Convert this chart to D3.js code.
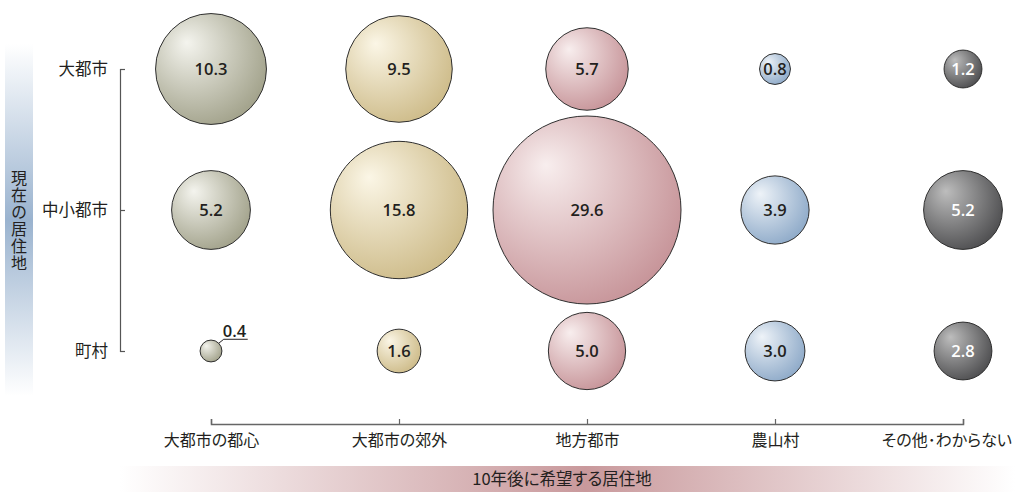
<!DOCTYPE html>
<html>
<head>
<meta charset="utf-8">
<script src="https://cdn.jsdelivr.net/npm/d3@7"></script>
<style>
  html, body { margin: 0; padding: 0; background: #fff; }
  svg { display: block; font-family: "Noto Sans CJK JP", "Noto Sans", sans-serif; }
  .num { font-family: "Open Sans", "Noto Sans", sans-serif; }
  .jp { font-feature-settings: "palt" 1; }
</style>
</head>
<body>
<svg id="chart" width="1015" height="492"></svg>
<script>
// Current place of residence (rows) and desired place in 10 years (columns)
const currentPlaces = ["大都市", "中小都市", "町村"];
const desiredPlaces = ["大都市の都心", "大都市の郊外", "地方都市", "農山村", "その他･わからない"];

// Share (%) for each current place, one value per desired place
const bigCityValues   = [10.3, 9.5, 5.7, 0.8, 1.2];
const midCityValues   = [5.2, 15.8, 29.6, 3.9, 5.2];
const townValues      = [0.4, 1.6, 5.0, 3.0, 2.8];

const rowTitle = "現在の居住地";
const colTitle = "10年後に希望する居住地";

// Bubble shading per desired place: [highlight, base]
const bubbleColors = [
  ["#f4f4ee", "#9d9d85"],
  ["#fbf6e6", "#cbb884"],
  ["#f8eeee", "#c48f94"],
  ["#eef3f8", "#89a6c6"],
  ["#bdbdbd", "#48484a"]
];
const labelColors = ["#231f20", "#231f20", "#231f20", "#231f20", "#ffffff"];

const seriesByRow = [bigCityValues, midCityValues, townValues];
const cells = [];
currentPlaces.forEach((row, i) => {
  desiredPlaces.forEach((col, j) => {
    cells.push({ row, col, ci: j, value: seriesByRow[i][j] });
  });
});

const svg = d3.select("#chart");
const textColor = "#231f20";
const W = 1015;

const x = d3.scalePoint().domain(desiredPlaces).range([211, 963]);
const y = d3.scalePoint().domain(currentPlaces).range([69, 351]);
const maxValue = d3.max(cells, d => d.value);
const r = d3.scaleSqrt().domain([0, maxValue]).range([0, 94]);

const defs = svg.append("defs");

// Vertical band behind the row title
const vGrad = defs.append("linearGradient")
  .attr("id", "rowBand").attr("x1", 0).attr("y1", 0).attr("x2", 0).attr("y2", 1);
vGrad.append("stop").attr("offset", "0%").attr("stop-color", "#ffffff");
vGrad.append("stop").attr("offset", "50%").attr("stop-color", "#9ab3cf");
vGrad.append("stop").attr("offset", "100%").attr("stop-color", "#ffffff");

// Horizontal band behind the column title
const hGrad = defs.append("linearGradient")
  .attr("id", "colBand").attr("x1", 0).attr("y1", 0).attr("x2", 1).attr("y2", 0);
hGrad.append("stop").attr("offset", "0%").attr("stop-color", "#ffffff");
hGrad.append("stop").attr("offset", "52%").attr("stop-color", "#c9999c");
hGrad.append("stop").attr("offset", "100%").attr("stop-color", "#ffffff");

// Sphere-like shading for each bubble colour
bubbleColors.forEach((c, i) => {
  const g = defs.append("radialGradient")
    .attr("id", "ball" + i)
    .attr("cx", "0.38").attr("cy", "0.38").attr("r", "0.72")
    .attr("fx", "0.28").attr("fy", "0.26");
  g.append("stop").attr("offset", "0%").attr("stop-color", c[0]);
  g.append("stop").attr("offset", "100%").attr("stop-color", c[1]);
});

// Row title band with vertical text
svg.append("rect")
  .attr("x", 5).attr("y", 44).attr("width", 28).attr("height", 352)
  .attr("fill", "url(#rowBand)");
svg.append("text")
  .attr("x", 19).attr("y", 221)
  .attr("text-anchor", "middle")
  .style("writing-mode", "vertical-rl")
  .style("text-orientation", "upright")
  .style("letter-spacing", "1px")
  .attr("font-size", 16).attr("fill", textColor)
  .text(rowTitle);

// Column title band
svg.append("rect")
  .attr("x", 120).attr("y", 466).attr("width", 895).attr("height", 26)
  .attr("fill", "url(#colBand)");
svg.append("text")
  .attr("class", "jp")
  .attr("x", 562).attr("y", 479).attr("dy", "0.35em")
  .attr("text-anchor", "middle").attr("font-size", 16.5).attr("fill", textColor)
  .text(colTitle);

// Left bracket axis
const yAxis = svg.append("g")
  .attr("transform", "translate(120,0)")
  .call(d3.axisLeft(y).tickSize(-5).tickPadding(12));
yAxis.select(".domain").attr("stroke", "#555").attr("stroke-width", 1.2);
yAxis.selectAll(".tick line").attr("stroke", "#555").attr("stroke-width", 1.2);
yAxis.selectAll(".tick text")
  .attr("font-size", 16.5).attr("fill", textColor)
  .attr("font-family", "Noto Sans CJK JP");

// Bottom axis
const xAxis = svg.append("g")
  .attr("transform", "translate(0,424)")
  .call(d3.axisBottom(x).tickSize(-5).tickPadding(11));
xAxis.select(".domain").attr("stroke", "#666").attr("stroke-width", 1.5);
xAxis.selectAll(".tick line").attr("stroke", "#666").attr("stroke-width", 1.2);
xAxis.selectAll(".tick text")
  .attr("class", "jp")
  .attr("font-size", 16).attr("fill", textColor)
  .attr("font-family", "Noto Sans CJK JP");

// Keep the last category label inside the canvas
xAxis.selectAll(".tick").each(function () {
  const tick = d3.select(this);
  const label = tick.select("text").node();
  const box = label.getBBox();
  const tx = +tick.attr("transform").match(/translate\(([-\d.]+)/)[1];
  const overflow = tx + box.x + box.width - (W - 3);
  if (overflow > 0) d3.select(label).attr("x", -overflow);
});

// Bubbles
const bubble = svg.append("g").selectAll("g")
  .data(cells).join("g")
  .attr("transform", d => `translate(${x(d.col)},${y(d.row)})`);

bubble.append("circle")
  .attr("r", d => r(d.value))
  .attr("fill", d => `url(#ball${d.ci})`)
  .attr("stroke", "#2f2f2f")
  .attr("stroke-width", 1);

const fmt = d3.format(".1f");
const insideMin = 0.6;

bubble.filter(d => d.value >= insideMin).append("text")
  .attr("class", "num")
  .attr("text-anchor", "middle").attr("dy", "0.36em")
  .attr("font-size", 16.5).attr("font-weight", 600)
  .attr("fill", d => labelColors[d.ci])
  .text(d => fmt(d.value));

// Small bubbles get an outside label with a leader line
const outside = bubble.filter(d => d.value < insideMin);
outside.append("path")
  .attr("d", d => {
    const rr = r(d.value);
    const sx = rr * Math.cos(-Math.PI / 4), sy = rr * Math.sin(-Math.PI / 4);
    return `M${sx},${sy}L${sx + 5},${sy - 4}H${sx + 29}`;
  })
  .attr("fill", "none").attr("stroke", "#231f20").attr("stroke-width", 1);
outside.append("text")
  .attr("class", "num")
  .attr("x", d => r(d.value) * Math.cos(Math.PI / 4) + 4)
  .attr("y", d => -r(d.value) * Math.sin(Math.PI / 4) - 6)
  .attr("font-size", 16.5).attr("font-weight", 600).attr("fill", textColor)
  .text(d => fmt(d.value));
</script>
</body>
</html>
